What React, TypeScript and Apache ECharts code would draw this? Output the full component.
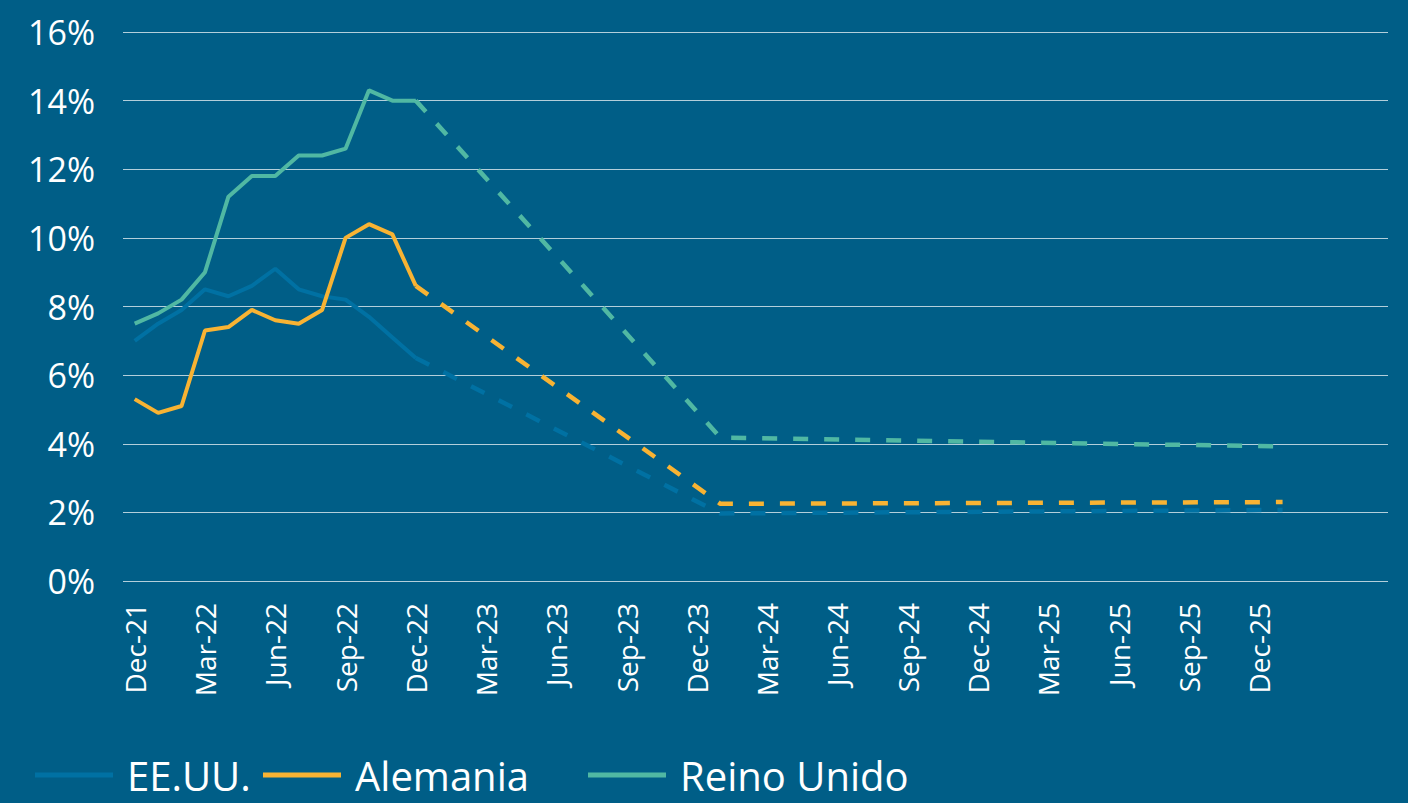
import React, { useEffect, useRef } from "react";
import * as echarts from "echarts";

const months: string[] = [
  "Dec-21", "Jan-22", "Feb-22", "Mar-22", "Apr-22", "May-22", "Jun-22", "Jul-22", "Aug-22", "Sep-22", "Oct-22", "Nov-22",
  "Dec-22", "Jan-23", "Feb-23", "Mar-23", "Apr-23", "May-23", "Jun-23", "Jul-23", "Aug-23", "Sep-23", "Oct-23", "Nov-23",
  "Dec-23", "Jan-24", "Feb-24", "Mar-24", "Apr-24", "May-24", "Jun-24", "Jul-24", "Aug-24", "Sep-24", "Oct-24", "Nov-24",
  "Dec-24", "Jan-25", "Feb-25", "Mar-25", "Apr-25", "May-25", "Jun-25", "Jul-25", "Aug-25", "Sep-25", "Oct-25", "Nov-25",
  "Dec-25", "Jan-26", "Feb-26", "Mar-26", "Apr-26", "May-26",
];
const lastLabel = "Dec-25";

// Observed monthly values, Dec-21 .. Dec-22
const actualMonths: string[] = [
  "Dec-21", "Jan-22", "Feb-22", "Mar-22", "Apr-22", "May-22", "Jun-22", "Jul-22", "Aug-22", "Sep-22", "Oct-22", "Nov-22", "Dec-22",
];
const usActual: number[] = [7.0, 7.5, 7.9, 8.5, 8.3, 8.6, 9.1, 8.5, 8.3, 8.2, 7.7, 7.1, 6.5];
const deActual: number[] = [5.3, 4.9, 5.1, 7.3, 7.4, 7.9, 7.6, 7.5, 7.9, 10.0, 10.4, 10.1, 8.6];
const ukActual: number[] = [7.5, 7.8, 8.2, 9.0, 11.2, 11.8, 11.8, 12.4, 12.4, 12.6, 14.3, 14.0, 14.0];

// Forecast path vertices
const forecastMonths: string[] = ["Dec-22", "Jan-24", "Jan-26"];
const usForecast: number[] = [6.5, 1.97, 2.07];
const deForecast: number[] = [8.6, 2.25, 2.3];
const ukForecast: number[] = [14.0, 4.18, 3.92];

const yTicks: number[] = [0, 2, 4, 6, 8, 10, 12, 14, 16];

const FONT = "'Open Sans', sans-serif";
const BG = "#005E87";
const C_US = "#0071A3";
const C_DE = "#F8B333";
const C_UK = "#50B8A3";

const pair = (xs: string[], ys: number[]) => xs.map((x, i) => [x, ys[i]]);

export default function App() {
  const ref = useRef<HTMLDivElement>(null);
  useEffect(() => {
    if (!ref.current) return;
    const chart = echarts.init(ref.current, undefined, { renderer: "svg" });
    const lastIdx = months.indexOf(lastLabel);
    const solid = (name: string, color: string, xs: string[], ys: number[], z: number) => ({
      name,
      type: "line",
      data: pair(xs, ys),
      symbol: "none",
      color,
      z,
      lineStyle: { color, width: 4, type: "solid" },
    });
    const dashed = (name: string, color: string, xs: string[], ys: number[], z: number) => ({
      name,
      type: "line",
      data: pair(xs, ys),
      symbol: "none",
      color,
      z,
      lineStyle: { color, width: 4.5, type: [15, 16], cap: "butt" },
    });
    const legendBase = {
      top: 750,
      icon: "rect",
      itemWidth: 78,
      itemHeight: 5,
      textStyle: { color: "#ffffff", fontSize: 40, fontFamily: FONT, padding: [0, 0, 0, 9] },
    };
    chart.setOption({
      animation: false,
      backgroundColor: BG,
      textStyle: { fontFamily: FONT },
      grid: { left: 123, right: 20, top: 32, bottom: 222, containLabel: false },
      legend: [
        { ...legendBase, left: 30, data: ["EE.UU."] },
        { ...legendBase, left: 258, data: ["Alemania"] },
        { ...legendBase, left: 583, data: ["Reino Unido"] },
      ],
      xAxis: {
        type: "category",
        data: months,
        boundaryGap: true,
        axisLine: { show: false },
        axisTick: { show: false },
        splitLine: { show: false },
        axisLabel: {
          interval: (index: number) => index % 3 === 0 && index <= lastIdx,
          rotate: 90,
          margin: 22,
          color: "#ffffff",
          fontSize: 28,
          fontFamily: FONT,
        },
      },
      yAxis: {
        type: "value",
        min: yTicks[0],
        max: yTicks[yTicks.length - 1],
        interval: 2,
        axisLine: { show: false },
        axisTick: { show: false },
        splitLine: { show: true, lineStyle: { color: "rgba(255,255,255,0.7)", width: 1 } },
        axisLabel: {
          formatter: "{value}%",
          margin: 28,
          color: "#ffffff",
          fontSize: 34,
          fontFamily: FONT,
        },
      },
      series: [
        solid("EE.UU.", C_US, actualMonths, usActual, 2),
        solid("Alemania", C_DE, actualMonths, deActual, 3),
        solid("Reino Unido", C_UK, actualMonths, ukActual, 4),
        dashed("EE.UU.", C_US, forecastMonths, usForecast, 2),
        dashed("Alemania", C_DE, forecastMonths, deForecast, 3),
        dashed("Reino Unido", C_UK, forecastMonths, ukForecast, 4),
      ],
    });
    return () => chart.dispose();
  }, []);
  return <div ref={ref} style={{ width: 1408, height: 803, position: "absolute", left: 0, top: 0 }} />;
}
